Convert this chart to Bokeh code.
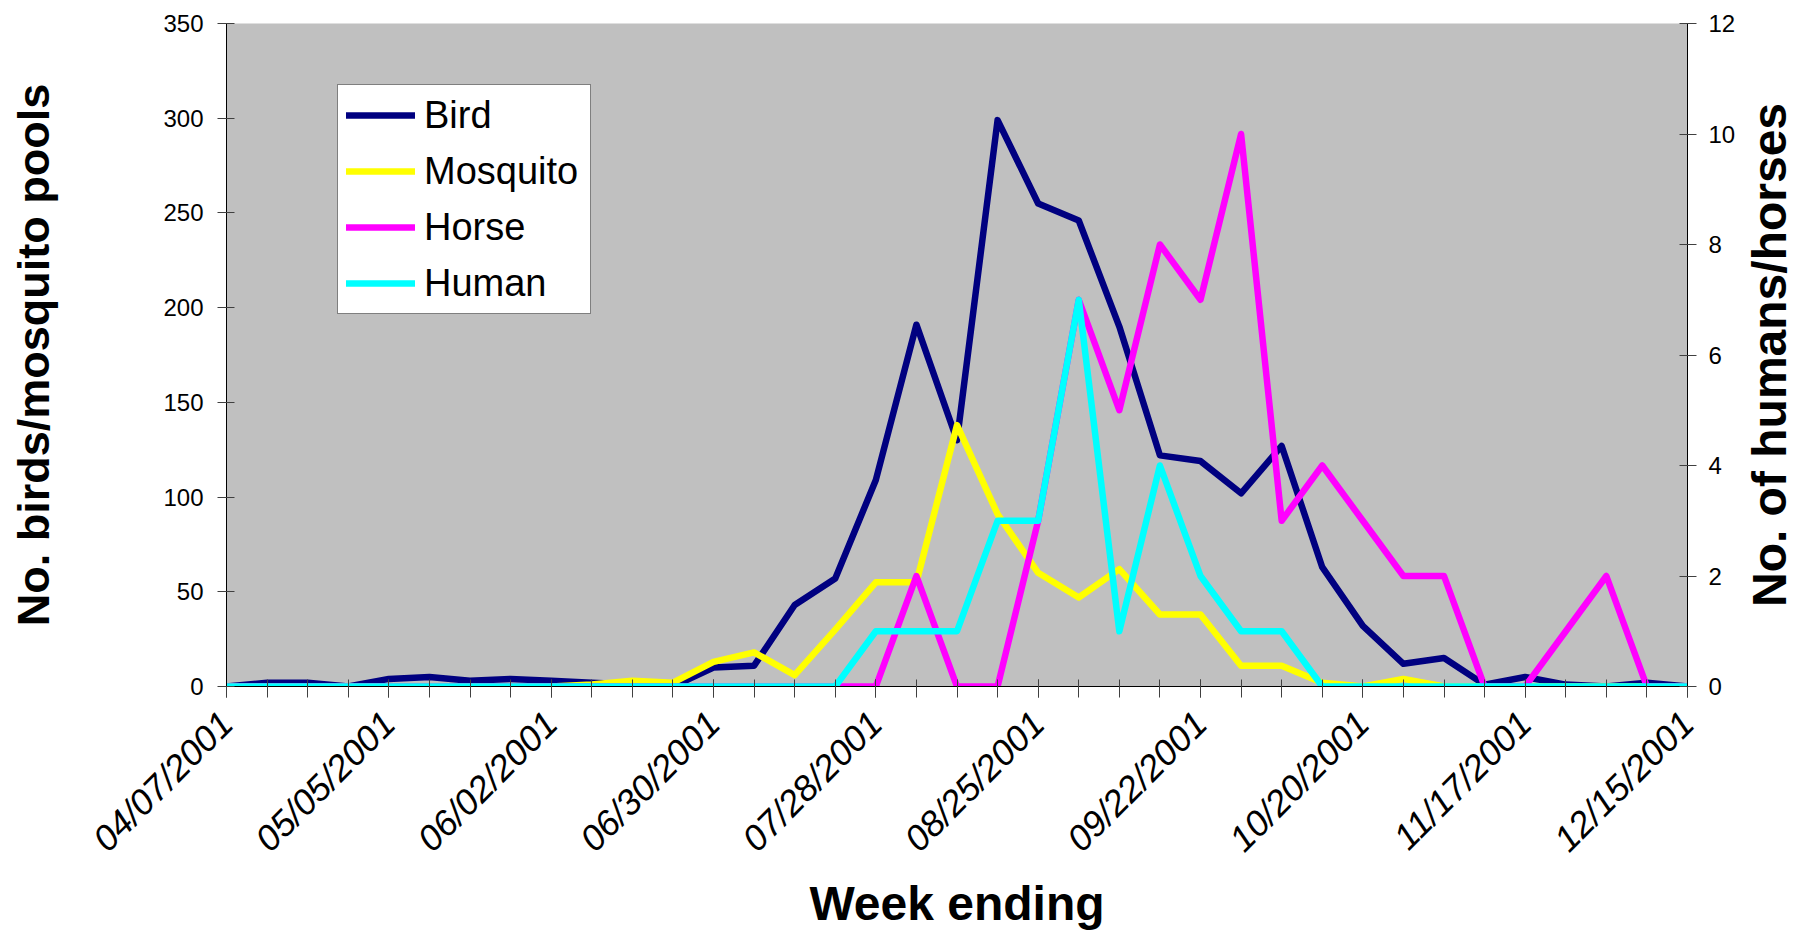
import math
from bokeh.plotting import figure
from bokeh.layouts import row
from bokeh.models import Range1d, LinearAxis, FixedTicker, Legend, LegendItem, Title
from bokeh.embed import file_html
from bokeh.resources import INLINE

# ---- data -------------------------------------------------------------
weeks = ["04/07/2001", "04/14/2001", "04/21/2001", "04/28/2001", "05/05/2001",
         "05/12/2001", "05/19/2001", "05/26/2001", "06/02/2001", "06/09/2001",
         "06/16/2001", "06/23/2001", "06/30/2001", "07/07/2001", "07/14/2001",
         "07/21/2001", "07/28/2001", "08/04/2001", "08/11/2001", "08/18/2001",
         "08/25/2001", "09/01/2001", "09/08/2001", "09/15/2001", "09/22/2001",
         "09/29/2001", "10/06/2001", "10/13/2001", "10/20/2001", "10/27/2001",
         "11/03/2001", "11/10/2001", "11/17/2001", "11/24/2001", "12/01/2001",
         "12/08/2001", "12/15/2001"]
labeled_weeks = ["04/07/2001", "05/05/2001", "06/02/2001", "06/30/2001", "07/28/2001",
                 "08/25/2001", "09/22/2001", "10/20/2001", "11/17/2001", "12/15/2001"]

bird = [0, 2, 2, 0, 4, 5, 3, 4, 3, 2, 1, 0, 10, 11, 43, 57, 109, 191, 130, 299,
        255, 246, 190, 122, 119, 102, 127, 63, 32, 12, 15, 1, 5, 1, 0, 2, 0]
mosquito = [0, 0, 0, 0, 0, 0, 0, 0, 0, 1, 3, 2, 13, 18, 6, 30, 55, 55, 138, 91,
            60, 47, 62, 38, 38, 11, 11, 2, 0, 4, 0, 0, 0, 0, 0, 0, 0]
horse = [0, 0, 0, 0, 0, 0, 0, 0, 0, 0, 0, 0, 0, 0, 0, 0, 0, 2, 0, 0,
         3, 7, 5, 8, 7, 10, 3, 4, 3, 2, 2, 0, 0, 1, 2, 0, 0]
human = [0, 0, 0, 0, 0, 0, 0, 0, 0, 0, 0, 0, 0, 0, 0, 0, 1, 1, 1, 3,
         3, 7, 1, 4, 2, 1, 1, 0, 0, 0, 0, 0, 0, 0, 0, 0, 0]

left_ticks = [0, 50, 100, 150, 200, 250, 300, 350]
right_ticks = [0, 2, 4, 6, 8, 10, 12]

x = list(range(len(weeks)))
label_idx = [weeks.index(w) for w in labeled_weeks]

FONT = "Liberation Sans"

p = figure(width=1739, height=932, output_backend="svg", toolbar_location=None,
           x_range=Range1d(x[0], x[-1]), y_range=Range1d(left_ticks[0], left_ticks[-1]),
           min_border_left=226, min_border_right=52, min_border_top=23,
           min_border_bottom=242)
p.extra_y_ranges = {"right": Range1d(right_ticks[0], right_ticks[-1])}

p.background_fill_color = "#C0C0C0"
p.border_fill_color = "white"
p.outline_line_color = None
p.xgrid.visible = False
p.ygrid.visible = False


def style_axis(ax, tick_in=8, tick_out=9):
    ax.axis_line_color = "black"
    ax.axis_line_width = 1
    ax.major_tick_line_color = "#404040"
    ax.major_tick_in = tick_in
    ax.major_tick_out = tick_out
    ax.minor_tick_line_color = "#404040"
    ax.minor_tick_in = tick_in
    ax.minor_tick_out = tick_out
    ax.major_label_text_font = FONT
    ax.major_label_text_font_size = "24px"
    ax.major_label_text_color = "black"
    ax.axis_label_text_font = FONT
    ax.axis_label_text_font_style = "bold"
    ax.axis_label_text_font_size = "45px"
    ax.axis_label_text_color = "black"


# x axis
xa = p.xaxis[0]
xa.ticker = FixedTicker(ticks=label_idx, minor_ticks=x)
xa.major_label_overrides = {i: weeks[i] for i in label_idx}
style_axis(xa, tick_in=7, tick_out=11)
xa.major_label_orientation = math.pi / 4
xa.major_label_text_font_size = "36px"
xa.major_label_text_font_style = "italic"
xa.major_label_standoff = 20
xa.axis_label = "Week ending"
xa.axis_label_text_font_size = "48px"
xa.axis_label_standoff = 0

# left axis
ya = p.yaxis[0]
ya.ticker = FixedTicker(ticks=left_ticks)
style_axis(ya)
ya.major_label_standoff = 14
ya.axis_label = "No. birds/mosquito pools"
ya.axis_label_standoff = 101

# right axis
ra = LinearAxis(y_range_name="right", ticker=FixedTicker(ticks=right_ticks))
style_axis(ra)
ra.major_label_standoff = 12
p.add_layout(ra, "right")

LW = 6.5
r_bird = p.line(x, bird, line_color="#000080", line_width=LW, line_join="round", line_cap="round")
r_mos = p.line(x, mosquito, line_color="#FFFF00", line_width=LW, line_join="round", line_cap="round")
r_horse = p.line(x, horse, line_color="#FF00FF", line_width=LW, line_join="round", line_cap="round",
                 y_range_name="right")
r_human = p.line(x, human, line_color="#00FFFF", line_width=LW, line_join="round", line_cap="round",
                 y_range_name="right")

legend = Legend(items=[LegendItem(label="Bird", renderers=[r_bird]),
                       LegendItem(label="Mosquito", renderers=[r_mos]),
                       LegendItem(label="Horse", renderers=[r_horse]),
                       LegendItem(label="Human", renderers=[r_human])],
                location=(111, 372))
legend.background_fill_color = "white"
legend.background_fill_alpha = 1
legend.border_line_color = "black"
legend.border_line_width = 1.2
legend.label_text_font = FONT
legend.label_text_font_size = "38px"
legend.label_text_color = "black"
legend.glyph_width = 69
legend.glyph_height = 44
legend.label_height = 44
legend.label_width = 158
legend.label_standoff = 9
legend.padding = 8
legend.spacing = 12
legend.margin = 0
p.add_layout(legend)

# secondary axis title (reads bottom-to-top, like the left one)
p2 = figure(width=58, height=932, output_backend="svg", toolbar_location=None,
            x_range=Range1d(0, 1), y_range=Range1d(0, 1),
            x_axis_type=None, y_axis_type=None,
            min_border_left=0, min_border_right=0, min_border_top=0,
            min_border_bottom=230)
p2.outline_line_color = None
p2.xgrid.visible = False
p2.ygrid.visible = False
p2.background_fill_color = "white"
p2.border_fill_color = "white"
rt = Title(text="No. of humans/horses", align="center", standoff=2, offset=0,
           text_font=FONT, text_font_size="48px", text_font_style="bold",
           text_color="black")
p2.add_layout(rt, "left")

layout = row(p, p2)
open("out.html", "w").write(file_html(layout, INLINE))
